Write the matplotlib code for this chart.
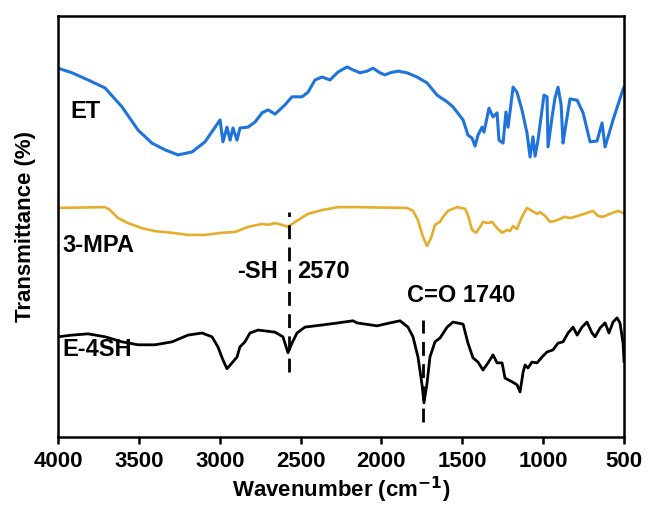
"""FTIR spectra of ET, 3-MPA and the thiolated product E-4SH."""
from __future__ import annotations

import matplotlib

matplotlib.use("Agg")
import matplotlib.pyplot as plt


# Wavenumber (cm-1) and offset transmittance for each spectrum
ET_WN = [4000, 3913, 3814, 3709, 3604, 3505, 3419, 3338, 3258, 3171, 3091, 2998, 2980, 2955,
         2936, 2918, 2893, 2875, 2825, 2782, 2738, 2701, 2658, 2596, 2553, 2491, 2454, 2411,
         2367, 2318, 2268, 2213, 2176, 2132, 2089, 2052, 2009, 1978, 1947, 1897, 1842, 1780,
         1718, 1656, 1594, 1557, 1495, 1465, 1440, 1421, 1403, 1378, 1366, 1335, 1310, 1285,
         1273, 1248, 1230, 1217, 1186, 1162, 1131, 1100, 1081, 1063, 1050, 1032, 995, 976,
         970, 945, 927, 908, 889, 877, 865, 834, 790, 753, 710, 667, 636, 617, 568, 506, 500]
ET_T = [87.6, 86.5, 84.8, 82.9, 78.4, 72.9, 69.8, 68.2, 67.0, 67.7, 70.1, 75.3, 70.1, 73.6,
        70.5, 73.4, 70.5, 73.4, 73.6, 74.8, 77.0, 77.7, 76.7, 78.9, 80.8, 80.8, 81.9, 84.8,
        85.5, 84.8, 86.7, 87.9, 87.2, 86.5, 86.9, 87.6, 86.5, 86.0, 86.5, 86.9, 86.5, 85.5,
        84.1, 81.2, 79.6, 78.4, 75.3, 71.7, 71.0, 69.1, 71.7, 73.6, 72.4, 78.1, 76.0, 77.0,
        70.5, 69.8, 77.2, 73.6, 83.1, 81.9, 77.7, 72.2, 66.5, 71.3, 66.7, 70.5, 81.2, 80.8,
        68.9, 76.0, 80.5, 83.1, 78.9, 69.8, 72.9, 80.3, 80.0, 77.0, 70.1, 70.3, 74.6, 68.9,
        75.3, 82.6, 83.1]

MPA_WN = [4000, 3709, 3678, 3629, 3567, 3481, 3400, 3295, 3196, 3091, 2986, 2905, 2825, 2738,
          2701, 2658, 2615, 2578, 2534, 2454, 2367, 2268, 2163, 1842, 1805, 1774, 1743, 1718,
          1693, 1669, 1638, 1619, 1588, 1533, 1483, 1465, 1440, 1415, 1390, 1372, 1341, 1316,
          1285, 1254, 1223, 1205, 1186, 1162, 1131, 1100, 1069, 1038, 1019, 988, 958, 927,
          896, 865, 834, 803, 772, 729, 692, 661, 630, 587, 537, 506, 500]
MPA_T = [54.4, 54.6, 53.9, 52.0, 50.8, 49.6, 48.9, 48.5, 48.0, 48.0, 48.5, 48.7, 49.9, 50.6,
         50.4, 50.8, 50.4, 49.9, 51.1, 53.0, 53.9, 54.6, 54.6, 54.4, 53.7, 51.5, 47.5, 45.4,
         47.3, 50.4, 51.1, 52.3, 53.7, 54.6, 54.2, 52.7, 49.2, 48.5, 49.9, 51.1, 50.8, 51.1,
         49.6, 48.5, 49.2, 48.9, 50.1, 49.4, 52.3, 54.4, 53.7, 53.0, 53.4, 52.5, 51.1, 51.3,
         51.8, 52.3, 52.0, 52.3, 52.7, 53.2, 53.7, 52.5, 52.3, 53.0, 53.7, 53.2, 53.0]

E4SH_WN = [4000, 3913, 3814, 3709, 3604, 3505, 3400, 3295, 3196, 3110, 3048, 3011, 2980, 2955,
           2924, 2893, 2875, 2844, 2813, 2763, 2658, 2609, 2578, 2553, 2522, 2473, 2367, 2268,
           2176, 2151, 2027, 1947, 1885, 1836, 1805, 1774, 1749, 1737, 1718, 1700, 1669, 1638,
           1594, 1557, 1495, 1465, 1434, 1403, 1372, 1341, 1310, 1285, 1254, 1236, 1192, 1162,
           1143, 1124, 1112, 1094, 1069, 1038, 1007, 976, 939, 908, 877, 846, 815, 790, 760,
           729, 698, 679, 648, 617, 593, 568, 543, 525, 506, 500]
E4SH_T = [23.8, 24.2, 24.5, 23.8, 22.6, 21.9, 21.9, 22.6, 24.2, 24.7, 23.8, 21.4, 18.3, 16.2,
          17.6, 19.0, 21.4, 22.6, 24.7, 25.4, 24.9, 23.8, 20.0, 22.3, 24.7, 26.1, 26.6, 27.1,
          27.6, 27.1, 26.4, 27.1, 27.6, 26.1, 23.8, 19.0, 12.4, 8.1, 12.8, 19.0, 22.6, 23.5,
          26.1, 27.3, 26.8, 22.3, 18.8, 17.8, 15.9, 17.6, 19.5, 17.6, 17.6, 14.0, 13.1, 12.4,
          10.7, 15.4, 17.1, 16.4, 17.8, 17.6, 19.0, 20.2, 20.7, 22.3, 22.6, 24.7, 26.1, 24.2,
          26.1, 27.3, 24.7, 23.8, 25.9, 27.1, 24.7, 27.3, 28.3, 27.1, 22.3, 18.0]

SERIES = [
    ("ET", ET_WN, ET_T, "#1f73dc", 2.2),
    ("3-MPA", MPA_WN, MPA_T, "#e6ad2c", 1.9),
    ("E-4SH", E4SH_WN, E4SH_T, "black", 2.0),
]

# (wavenumber, lower, upper) of the marker lines
MARKERS = [(2570, 15.4, 53.4), (1740, 3.6, 27.8)]


def configure_matplotlib() -> None:
    plt.rcParams["font.family"] = ["Liberation Sans", "DejaVu Sans"]
    plt.rcParams["font.weight"] = "bold"
    plt.rcParams["axes.linewidth"] = 1.8


def main() -> int:
    configure_matplotlib()
    fig = plt.figure(figsize=(6.48, 5.12), dpi=100)
    ax = fig.add_axes([0.0895, 0.1465, 0.8735, 0.8223])

    for name, wn, t, color, lw in SERIES:
        ax.plot(wn, t, color=color, lw=lw, solid_joinstyle="round", label=name)

    for wn, lo, hi in MARKERS:
        ax.plot([wn, wn], [lo, hi], color="black", lw=2.0, linestyle=(0, (5, 3)))

    ax.text(3926, 77.2, "ET", fontsize=17, fontweight="bold", va="center", ha="left")
    ax.text(3975, 45.4, "3-MPA", fontsize=17, fontweight="bold", va="center", ha="left")
    ax.text(3975, 20.7, "E-4SH", fontsize=17, fontweight="bold", va="center", ha="left")
    ax.text(2639, 39.4, "-SH", fontsize=17, fontweight="bold", va="center", ha="right")
    ax.text(2522, 39.4, "2570", fontsize=17, fontweight="bold", va="center", ha="left")
    ax.text(1508, 33.6, "C=O 1740", fontsize=17, fontweight="bold", va="center", ha="center")

    ax.set_xlim(4000, 500)
    ax.set_ylim(0, 100)
    ax.set_xticks([4000, 3500, 3000, 2500, 2000, 1500, 1000, 500])
    ax.tick_params(axis="x", direction="out", length=5, width=1.8, labelsize=16, pad=5)
    ax.set_yticks([])
    for label in ax.get_xticklabels():
        label.set_fontweight("bold")

    ax.set_xlabel("Wavenumber (cm$^{\\mathbf{-1}}$)", fontsize=16, fontweight="bold", labelpad=2)
    ax.set_ylabel("Transmittance (%)", fontsize=16, fontweight="bold", labelpad=16)

    fig.savefig("out.png", dpi=100, facecolor="white")
    plt.close(fig)
    return 0


if __name__ == "__main__":
    raise SystemExit(main())
